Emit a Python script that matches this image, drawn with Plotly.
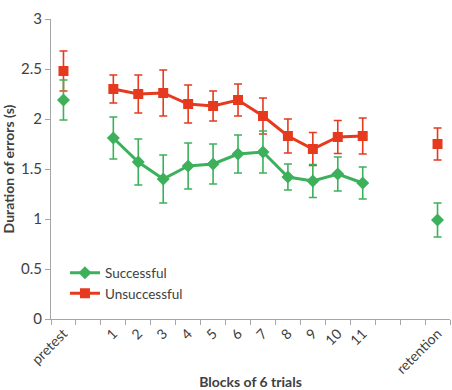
import plotly.graph_objects as go

categories = ["pretest", " ", "1", "2", "3", "4", "5", "6", "7", "8", "9", "10", "11", "  ", "   ", "retention"]

# Successful (green)
succ_x = ["pretest", "1", "2", "3", "4", "5", "6", "7", "8", "9", "10", "11", "retention"]
succ_y = [2.19, 1.81, 1.57, 1.40, 1.53, 1.55, 1.65, 1.67, 1.42, 1.38, 1.45, 1.36, 0.99]
succ_err = [0.20, 0.21, 0.23, 0.24, 0.23, 0.20, 0.19, 0.21, 0.13, 0.165, 0.17, 0.16, 0.17]

# Unsuccessful (red)
uns_x = succ_x
uns_y = [2.48, 2.30, 2.25, 2.26, 2.15, 2.13, 2.19, 2.03, 1.83, 1.70, 1.82, 1.83, 1.75]
uns_err = [0.20, 0.14, 0.19, 0.23, 0.19, 0.15, 0.16, 0.18, 0.17, 0.165, 0.165, 0.18, 0.16]

GREEN = "#3cb05a"
RED = "#e63a1e"

def split(xs, ys, es):
    conn = [(x, y, e) for x, y, e in zip(xs, ys, es) if x not in ("pretest", "retention")]
    iso = [(x, y, e) for x, y, e in zip(xs, ys, es) if x in ("pretest", "retention")]
    return conn, iso

fig = go.Figure()

for name, xs, ys, es, color, symbol, msize in [
    ("Unsuccessful", uns_x, uns_y, uns_err, RED, "square", 10),
    ("Successful", succ_x, succ_y, succ_err, GREEN, "diamond", 10),
]:
    conn, iso = split(xs, ys, es)
    fig.add_trace(go.Scatter(
        x=[c[0] for c in conn], y=[c[1] for c in conn],
        error_y=dict(type="data", array=[c[2] for c in conn], color=color, thickness=1.6, width=4),
        mode="lines+markers", name=name,
        line=dict(color=color, width=3),
        marker=dict(symbol=symbol, size=msize, color=color),
        legendrank=1 if name == "Successful" else 2,
    ))
    fig.add_trace(go.Scatter(
        x=[c[0] for c in iso], y=[c[1] for c in iso],
        error_y=dict(type="data", array=[c[2] for c in iso], color=color, thickness=1.6, width=4),
        mode="markers", name=name, showlegend=False,
        marker=dict(symbol=symbol, size=msize, color=color),
    ))

fig.update_layout(
    width=452, height=390,
    margin=dict(l=51, r=2, t=19, b=71),
    paper_bgcolor="white", plot_bgcolor="white",
    font=dict(family="Lato, Open Sans, sans-serif", size=14, color="#404040"),
    showlegend=True,
    legend=dict(x=0.035, y=0.205, xanchor="left", yanchor="top",
                bgcolor="rgba(0,0,0,0)", font=dict(size=13.5, color="#404040"),
                tracegroupgap=0, itemwidth=30),
)
fig.update_xaxes(
    type="category", categoryorder="array", categoryarray=categories,
    range=[-0.5, len(categories) - 0.5], automargin=False,
    showline=True, linecolor="#a6a6a6", linewidth=1,
    ticks="outside", tickson="boundaries", ticklen=5, tickcolor="#a6a6a6",
    tickangle=-45, showgrid=False, zeroline=False,
    tickfont=dict(size=14),
    title=dict(text="<b>Blocks of 6 trials</b>", font=dict(size=14, color="#404040"), standoff=6),
)
fig.update_yaxes(
    range=[0, 3], dtick=0.5, automargin=False,
    showline=True, linecolor="#a6a6a6", linewidth=1,
    ticks="outside", ticklen=5, tickcolor="#a6a6a6",
    showgrid=False, zeroline=False,
    tickfont=dict(size=15),
    title=dict(text="<b>Duration of errors (s)</b>", font=dict(size=14, color="#404040"), standoff=6),
)

fig.write_html("out.html")
